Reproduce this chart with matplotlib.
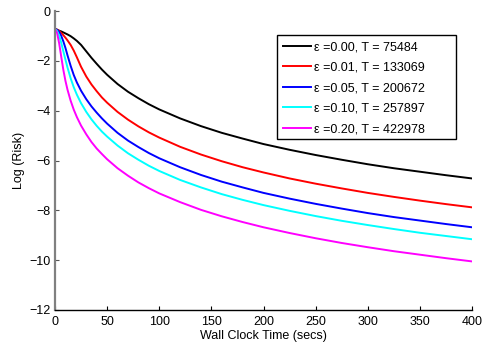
import numpy as np
import matplotlib.pyplot as plt
from matplotlib.patches import Rectangle

plt.rcParams['font.family'] = ['Liberation Sans', 'DejaVu Sans']

# wall clock time (secs)
t = [0, 2, 4, 6, 8, 10, 12, 15, 18, 21, 25, 30, 35, 40, 45, 50, 60, 70, 80, 90,
     100, 120, 140, 160, 180, 200, 225, 250, 275, 300, 325, 350, 375, 400]

# log risk for each epsilon
risk_000 = [-0.72, -0.75, -0.79, -0.82, -0.86, -0.9, -0.94, -1.01, -1.1, -1.2,
            -1.36, -1.62, -1.88, -2.12, -2.35, -2.56, -2.93, -3.24, -3.5, -3.74,
            -3.95, -4.31, -4.62, -4.89, -5.12, -5.34, -5.57, -5.78, -5.97, -6.15,
            -6.31, -6.45, -6.59, -6.72]
risk_001 = [-0.72, -0.75, -0.8, -0.88, -0.97, -1.07, -1.18, -1.36, -1.59, -1.86,
            -2.24, -2.63, -2.95, -3.22, -3.47, -3.68, -4.05, -4.36, -4.63, -4.87,
            -5.08, -5.45, -5.76, -6.03, -6.27, -6.48, -6.72, -6.93, -7.12, -7.3,
            -7.46, -7.61, -7.75, -7.88]
risk_005 = [-0.72, -0.76, -0.84, -1.0, -1.22, -1.48, -1.78, -2.2, -2.57, -2.87,
            -3.2, -3.54, -3.83, -4.08, -4.31, -4.52, -4.89, -5.2, -5.46, -5.7,
            -5.91, -6.27, -6.58, -6.85, -7.08, -7.3, -7.53, -7.74, -7.93, -8.11,
            -8.27, -8.41, -8.55, -8.68]
risk_010 = [-0.72, -0.8, -0.98, -1.28, -1.62, -1.95, -2.27, -2.7, -3.06, -3.36,
            -3.7, -4.05, -4.35, -4.61, -4.84, -5.04, -5.4, -5.71, -5.97, -6.21,
            -6.42, -6.78, -7.08, -7.35, -7.58, -7.79, -8.02, -8.23, -8.42, -8.59,
            -8.75, -8.9, -9.03, -9.16]
risk_020 = [-0.72, -0.88, -1.3, -1.84, -2.36, -2.8, -3.16, -3.6, -3.96, -4.26,
            -4.6, -4.95, -5.26, -5.52, -5.74, -5.95, -6.31, -6.61, -6.88, -7.11,
            -7.32, -7.67, -7.98, -8.24, -8.47, -8.68, -8.91, -9.12, -9.31, -9.48,
            -9.64, -9.78, -9.92, -10.05]

labels = ['ε =0.00, T = 75484', 'ε =0.01, T = 133069', 'ε =0.05, T = 200672',
          'ε =0.10, T = 257897', 'ε =0.20, T = 422978']
colors = ['black', 'red', 'blue', 'cyan', 'magenta']

W, H = 485, 343
fig = plt.figure(figsize=(W / 100, H / 100), dpi=100)
ax = fig.add_axes([55 / W, 1 - 310 / H, 417 / W, 299 / H])

for y, lab, c in zip([risk_000, risk_001, risk_005, risk_010, risk_020], labels, colors):
    ax.plot(t, y, color=c, lw=1.4, label=lab)

ax.set_xlim(0, 400)
ax.set_ylim(-12, 0)
ax.set_xticks(np.arange(0, 401, 50))
ax.set_yticks(np.arange(-12, 1, 2))

# matlab look: only left/bottom axes, ticks inside
ax.spines['top'].set_visible(False)
ax.spines['right'].set_visible(False)
ax.spines['left'].set_color('#808080')
ax.spines['left'].set_linewidth(1.6)
ax.spines['bottom'].set_linewidth(1.0)
ax.tick_params(direction='in', length=3, labelsize=9)
ax.tick_params(axis='x', pad=4)
ax.tick_params(axis='y', color='#555555', pad=3)

ax.set_xlabel('Wall Clock Time (secs)', fontsize=9, labelpad=2)
ax.set_ylabel('Log (Risk)', fontsize=9, labelpad=3)

# legend box drawn by hand (matlab leaves extra room on the right)
ax.add_patch(Rectangle((277 / W, 1 - 139 / H), 179 / W, 104 / H,
                       transform=fig.transFigure, facecolor='white',
                       edgecolor='black', lw=1.0, zorder=4.5, clip_on=False))
leg = ax.legend(loc='upper left', bbox_to_anchor=(277 / W, 1 - 35 / H),
                bbox_transform=fig.transFigure, fontsize=9, frameon=False,
                handlelength=2.25, handletextpad=0.2, labelspacing=0.68,
                borderpad=0.5, borderaxespad=0)
leg.set_zorder(5)

fig.savefig('out.png', dpi=100)
